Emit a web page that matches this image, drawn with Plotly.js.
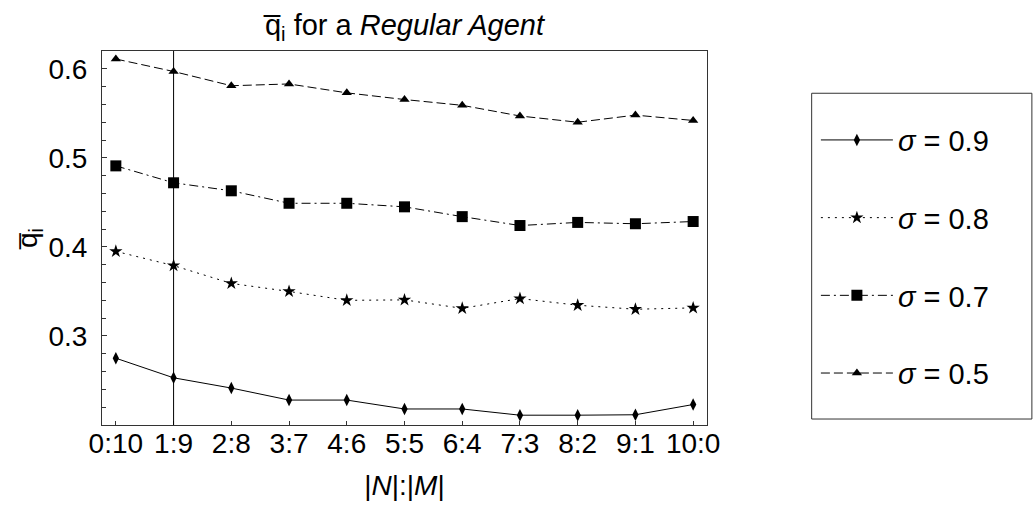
<!DOCTYPE html>
<html><head><meta charset="utf-8">
<script src="https://cdn.plot.ly/plotly-3.0.1.min.js"></script>
<style>html,body{margin:0;padding:0;background:#fff}</style>
</head><body>
<div id="chart" style="width:1033px;height:506px"></div>
<script>
const categories = ['0:10','1:9','2:8','3:7','4:6','5:5','6:4','7:3','8:2','9:1','10:0'];
const sigma09 = [0.275,0.253,0.2415,0.228,0.228,0.218,0.218,0.211,0.211,0.2115,0.223];
const sigma08 = [0.395,0.379,0.359,0.350,0.340,0.3405,0.331,0.342,0.3345,0.330,0.3315];
const sigma07 = [0.491,0.472,0.463,0.449,0.449,0.445,0.434,0.424,0.4275,0.426,0.4285];
const sigma05 = [0.611,0.597,0.581,0.583,0.573,0.5655,0.559,0.547,0.540,0.548,0.542];
const seriesNames = ['<i>σ</i> = 0.9','<i>σ</i> = 0.8','<i>σ</i> = 0.7','<i>σ</i> = 0.5'];
const yTickValues = [0.3,0.4,0.5,0.6];
const yTickLabels = ['0.3','0.4','0.5','0.6'];
const referenceCategory = '1:9';

const FONT = 'Liberation Sans, Arial, sans-serif';
const refIndex = categories.indexOf(referenceCategory);

function trace(y, name, dash, symbol, size) {
  return {
    x: categories, y: y, name: name, legendgroup: name,
    type: 'scatter', mode: 'lines+markers',
    line: {color: '#000', width: 1, dash: dash},
    marker: {color: '#000', symbol: symbol, size: size}
  };
}

const data = [
  trace(sigma09, seriesNames[0], 'solid', 'diamond-tall', 9),
  trace(sigma08, seriesNames[1], '2px,5px', 'star', 10),
  trace(sigma07, seriesNames[2], '9px,4px,2px,4px', 'square', 11),
  trace(sigma05, seriesNames[3], '9px,4px', 'triangle-up', 9)
];

const layout = {
  width: 1033, height: 506,
  margin: {l: 102, r: 326, t: 51, b: 81},
  paper_bgcolor: '#fff', plot_bgcolor: '#fff',
  font: {family: FONT, color: '#000', size: 28},
  title: {text: 'q\u0305<sub>i</sub> for a <i>Regular Agent</i>', x: 0.5, xref: 'paper', y: 0.951, yref: 'container', yanchor: 'middle', font: {size: 29, family: FONT}},
  xaxis: {
    type: 'category', range: [-0.24, categories.length - 1 + 0.24],
    showgrid: false, zeroline: false, showline: true, linecolor: '#333', linewidth: 1, mirror: true,
    ticks: 'inside', ticklen: 4, tickcolor: '#333',
    tickfont: {size: 28}, ticklabelstandoff: -7,
    title: {text: '|<i>N</i>|:|<i>M</i>|', font: {size: 28}, standoff: 17}
  },
  yaxis: {
    range: [0.2, 0.62],
    showgrid: false, zeroline: false, showline: true, linecolor: '#333', linewidth: 1, mirror: true,
    tickmode: 'array', tickvals: yTickValues, ticktext: yTickLabels,
    ticks: 'inside', ticklen: 5, tickcolor: '#333',
    minor: {dtick: 0.02, tick0: 0.2, ticks: 'inside', ticklen: 4, tickcolor: '#333'},
    tickfont: {size: 28}, ticklabelstandoff: 8,
    title: {text: 'q\u0305<sub>i</sub>', font: {size: 28}, standoff: 2}
  },
  showlegend: true,
  legend: {
    x: 1.18, xanchor: 'left', y: 0.83, yanchor: 'top',
    bgcolor: 'rgba(0,0,0,0)', borderwidth: 0, itemwidth: 72,
    font: {size: 29, family: FONT}, tracegroupgap: 37
  },
  shapes: [
    {type: 'line', xref: 'x', yref: 'paper', x0: refIndex, x1: refIndex, y0: 0, y1: 1, line: {color: '#000', width: 1}},
    {type: 'rect', xref: 'paper', yref: 'paper', x0: 1.173, x1: 1.537, y0: 0.016, y1: 0.887, line: {color: '#333', width: 1}}
  ]
};

Plotly.newPlot('chart', data, layout, {displayModeBar: false, staticPlot: true});
</script>
</body></html>
